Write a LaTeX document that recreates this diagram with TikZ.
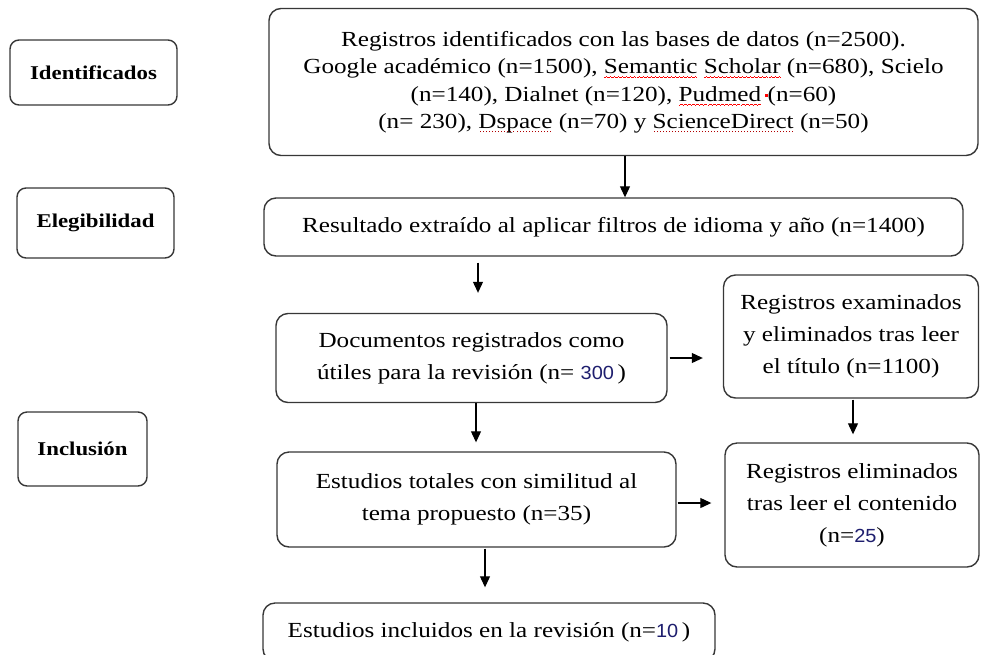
\documentclass[tikz,border=0pt]{standalone}
\usepackage{fontspec}
\setmainfont[FakeStretch=1.17]{Liberation Serif}
\newfontfamily\arialf[FakeStretch=1.05]{Liberation Sans}
\usetikzlibrary{arrows.meta}
\definecolor{bord}{RGB}{55,55,55}
\definecolor{numc}{RGB}{30,30,110}
\newcommand\redwave[1]{\setbox0\hbox{#1}\leavevmode\rlap{\raisebox{-4.5pt}{\textcolor{red}{\hbox to \wd0{\xleaders\hbox{\rule[0pt]{1pt}{0.7pt}\rule[0.7pt]{1pt}{0.7pt}\rule[1.2pt]{1pt}{0.7pt}\rule[0.7pt]{1pt}{0.7pt}}\hfill}}}}\box0\relax}
\newcommand\reddots[1]{\setbox0\hbox{#1}\leavevmode\rlap{\raisebox{-3.5pt}{\textcolor{red!70!black}{\hbox to \wd0{\xleaders\hbox to 3pt{\hss\rule{1pt}{1pt}\hss}\hfill}}}}\box0\relax}
\newcommand\sn[1]{{\arialf\fontsize{19}{19}\selectfont\color{numc}#1}}
\tikzset{
  box/.style={draw=bord, line width=1.4pt, rounded corners=12pt, fill=white,
    align=center, inner sep=0pt, font=\fontsize{21.5}{27.5}\selectfont},
  wide/.style={font=\fontsize{21.5}{32}\selectfont},
  lab/.style={box, rounded corners=9pt, font=\bfseries\fontsize{19.5}{24}\selectfont},
  arr/.style={-{Triangle[length=11pt,width=10pt]}, line width=1.1pt, black}
}
\begin{document}
\begin{tikzpicture}[x=1pt,y=-1pt]
\useasboundingbox (0,0) rectangle (981,654);
\clip (0,0) rectangle (981,654);

\node[lab, minimum width=167pt, minimum height=65pt] (ident) at (93.5,72.5) {Identificados};
\node[lab, minimum width=157pt, minimum height=70pt] (eleg) at (95.5,223) {Elegibilidad};
\node[lab, minimum width=129pt, minimum height=74pt] (incl) at (82.5,449) {Inclusión};

\node[box, minimum width=709pt, minimum height=147pt] (top) at (623.5,82)
 {Registros identificados con las bases de datos (n=2500).\\
  Google académico (n=1500), \redwave{Semantic} \redwave{Scholar} (n=680), Scielo\\
  (n=140), Dialnet (n=120), \redwave{Pudmed}\,\textcolor{red}{\rule[4pt]{3pt}{3pt}}(n=60)\\
  (n= 230), \reddots{Dspace} (n=70) y \reddots{ScienceDirect} (n=50)};

\node[box, minimum width=699pt, minimum height=58pt] (result) at (613.5,227)
 {Resultado extraído al aplicar filtros de idioma y año (n=1400)};

\node[box, wide, minimum width=391pt, minimum height=89pt] (docs) at (471.5,358)
 {Documentos registrados como\\ útiles para la revisión (n= \sn{300}\,)};

\node[box, wide, minimum width=255pt, minimum height=123pt] (exam) at (851,336.5)
 {Registros examinados\\ y eliminados tras leer\\ el título (n=1100)};

\node[box, wide, minimum width=399pt, minimum height=95pt] (est) at (476.5,499.5)
 {Estudios totales con similitud al\\ tema propuesto (n=35)};

\node[box, wide, minimum width=254pt, minimum height=124pt] (elim) at (852,505)
 {Registros eliminados\\ tras leer el contenido\\ (n=\sn{25})};

\node[box, minimum width=452pt, minimum height=58pt] (final) at (489,632)
 {Estudios incluidos en la revisión (n=\sn{10}\,)};

\coordinate (a0) at (625,0);
\coordinate (a1) at (478,0);
\coordinate (a2) at (476,0);
\coordinate (a3) at (853,0);
\coordinate (a4) at (0,503);
\coordinate (a5) at (485,0);

\draw[arr] (top.south -| a0) -- (result.north -| a0);
\draw[arr, shorten <=6pt, shorten >=20pt] (result.south -| a1) -- (docs.north -| a1);
\draw[arr, shorten <=2pt, shorten >=20pt] (docs.east) -- (exam.west |- docs.east);
\draw[arr, shorten >=9pt] (docs.south -| a2) -- (est.north -| a2);
\draw[arr, shorten <=1pt, shorten >=8pt] (exam.south -| a3) -- (elim.north -| a3);
\draw[arr, shorten <=1pt, shorten >=13pt] (est.east |- a4) -- (elim.west |- a4);
\draw[arr, shorten <=1pt, shorten >=15pt] (est.south -| a5) -- (final.north -| a5);
\end{tikzpicture}
\end{document}
